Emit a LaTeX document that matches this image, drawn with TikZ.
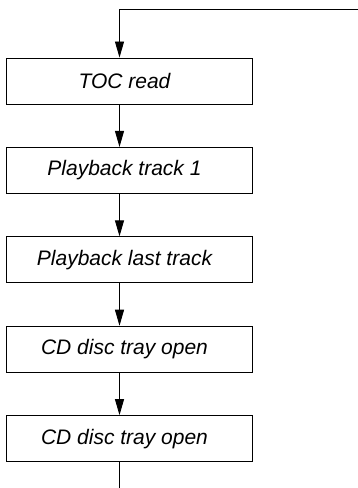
\documentclass[tikz,border=0pt]{standalone}
\usepackage{fontspec}
\setmainfont{Liberation Sans}
\usetikzlibrary{arrows.meta,positioning}

\begin{document}
\begin{tikzpicture}[x=1pt,y=1pt,
  stage/.style={draw,line width=0.9pt,minimum width=246pt,minimum height=46pt,inner sep=0pt,font=\fontsize{21}{25}\selectfont\itshape,execute at end node={\kern9pt}},
  flow/.style={-{Triangle[length=16pt,width=9pt]},line width=0.9pt}
]
\useasboundingbox (0,0) rectangle (358,488);
\node[stage] (toc) at (129,407) {TOC read};
\node[stage,below=42.5pt of toc] (first) {Playback track 1};
\node[stage,below=42.5pt of first] (last) {Playback last track};
\node[stage,below=42.5pt of last] (tray1) {CD disc tray open};
\node[stage,below=42.5pt of tray1] (tray2) {CD disc tray open};
\coordinate (loop) at (119.5,479);
\coordinate (loopin) at (358,479);
\coordinate (out) at (119.5,0);
\draw[flow] (loopin) -- (loop) -- (toc.north -| loop);
\foreach \a/\b in {toc/first,first/last,last/tray1,tray1/tray2} {
  \draw[flow] (\a.south -| loop) -- (\b.north -| loop);
}
\draw[line width=0.9pt] (tray2.south -| loop) -- (out);
\end{tikzpicture}
\end{document}
